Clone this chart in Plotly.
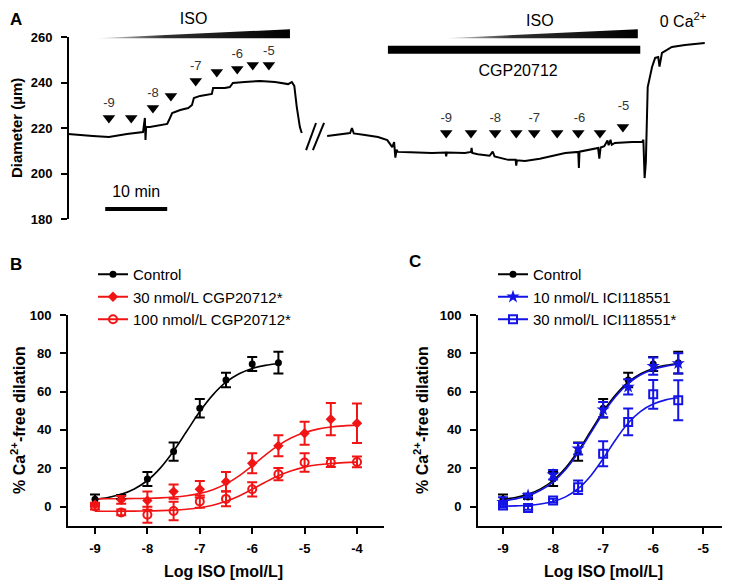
import plotly.graph_objects as go

FONT = 'Liberation Sans, Arial, sans-serif'
RED = '#f01414'
BLUE = '#1414e6'

##################################################
# panel A : diameter trace (time in min, diameter in um)
##################################################
seg1_t = [0.0, 1.9, 4.0, 6.6, 8.4, 9.5, 12.1, 12.4, 12.5, 12.6, 13.2, 14.8, 16.0, 16.3, 16.8,
          18.1, 19.4, 20.0, 20.3, 21.3, 22.6, 23.2, 23.4, 25.3, 26.1, 26.6, 28.5, 31.0, 33.4,
          35.5, 36.1, 36.5, 36.9, 37.4, 37.7]
seg1_d = [217.4, 216.9, 216.5, 216.0, 216.9, 217.4, 218.2, 224.4, 214.7, 220.4, 220.4, 221.3,
          221.8, 223.5, 226.6, 227.9, 228.8, 230.1, 233.2, 234.1, 234.5, 235.0, 237.6, 237.6,
          238.0, 239.8, 240.2, 240.7, 240.2, 239.3, 240.2, 238.5, 229.2, 220.4, 217.8]

seg2_t = [41.8, 43.9, 45.5, 45.8, 46.1, 47.9, 50.0, 51.5, 52.3, 52.6, 52.8, 53.0, 53.2, 55.2,
          58.7, 60.9, 61.0, 61.1, 64.0, 65.0, 65.1, 65.2, 66.1, 68.0, 68.5, 68.8, 71.0, 72.2,
          72.3, 72.4, 73.7, 76.1, 77.4, 80.2, 82.3, 82.4, 82.5, 85.5, 85.7, 85.9, 86.5, 87.0,
          87.2, 87.5, 87.7, 88.2, 91.0, 92.6, 92.8, 93.0, 93.2, 93.5, 94.2, 94.7, 95.2, 95.4,
          95.8, 97.4, 99.5, 102.7]
seg2_d = [216.5, 217.4, 217.8, 220.0, 217.6, 216.9, 216.0, 214.7, 211.6, 213.8, 207.0, 210.5,
          209.5, 209.3, 209.0, 209.2, 207.5, 209.2, 209.0, 209.5, 211.3, 209.0, 208.5, 207.8,
          209.6, 207.5, 206.0, 206.0, 203.5, 205.8, 205.5, 206.5, 207.3, 209.0, 209.5, 202.4,
          209.6, 211.2, 206.5, 211.4, 212.0, 214.5, 212.4, 214.8, 212.6, 213.4, 213.8, 213.8,
          214.8, 198.0, 205.0, 238.0, 246.8, 250.8, 251.2, 247.0, 253.0, 255.6, 256.5, 257.4]

# drug additions (arrowheads) and their log concentration labels
arrows1_t = [6.6, 10.2, 13.7, 16.6, 20.6, 24.0, 27.3, 29.8, 32.4]
arrows1_d = [224.4, 224.4, 228.8, 234.1, 240.7, 244.6, 245.9, 247.7, 247.7]
arrows2_t = [61.0, 65.0, 68.9, 72.3, 75.2, 78.9, 82.3, 85.8, 89.5]
arrows2_d = [217.8, 217.8, 217.8, 217.8, 217.8, 217.8, 217.8, 217.8, 220.4]
dose_labels = ['-9', '-8', '-7', '-6', '-5']
labels1_t = [6.6, 13.7, 20.6, 27.3, 32.4]
labels1_d = [230.8, 235.2, 246.8, 252.1, 253.4]
labels2_t = [61.0, 68.9, 75.2, 82.5, 89.6]
labels2_d = [224.0, 224.0, 224.0, 224.0, 229.2]

# treatment bars
iso1_t = [4.7, 35.8]
iso2_t = [60.8, 91.9]
cgp_bar_t = [51.6, 92.3]
wedge_d = [259.5, 263.4]
cgp_bar_d = [252.6, 256.2]
scale_t = [6.0, 16.0]
scale_d = 184.4
break1_t = [38.4, 40.0]
break2_t = [39.5, 41.3]
break_d = [210.3, 222.2]

##################################################
# panels B and C : concentration-response data
##################################################
log_iso = [-9, -8.5, -8, -7.5, -7, -6.5, -6, -5.5, -5, -4.5, -4]
control_y = [3.8, 5.0, 14.4, 28.7, 51.3, 66.1, 74.4, 75.1]
control_err = [2.5, 1.0, 3.7, 4.8, 4.8, 3.8, 3.7, 5.7]
cgp30_y = [1.0, 3.5, 3.1, 7.8, 9.0, 13.0, 22.6, 31.7, 38.3, 45.6, 43.5]
cgp30_err = [1.0, 2.0, 4.8, 3.7, 4.3, 5.0, 5.2, 5.5, 6.0, 8.4, 10.3]
cgp100_y = [0.0, -3.1, -4.3, -2.3, 2.6, 4.0, 9.0, 16.9, 23.0, 23.0, 23.3]
cgp100_err = [1.5, 1.5, 4.2, 4.8, 3.2, 3.9, 3.7, 3.2, 4.8, 2.3, 2.8]
ici10_y = [2.3, 5.8, 16.6, 30.2, 50.6, 62.5, 73.3, 74.7]
ici10_err = [2.5, 1.0, 2.5, 3.0, 4.0, 4.0, 4.5, 5.3]
ici30_y = [0.5, -0.7, 3.1, 10.1, 27.6, 44.2, 58.6, 55.5]
ici30_err = [1.0, 1.0, 1.0, 3.5, 6.5, 7.0, 7.5, 10.5]

# fitted curves
fit_x = [-9, -8.75, -8.5, -8.25, -8, -7.75, -7.5, -7.25, -7, -6.75, -6.5, -6.25, -6, -5.75,
         -5.5, -5.25, -5, -4.75, -4.5, -4.25, -4]
control_fit = [3.8, 4.75, 6.4, 9.2, 13.6, 20.2, 29.0, 39.3, 49.6, 58.3, 64.9, 69.3, 72.1, 73.7, 74.7]
cgp30_fit = [4.0, 4.06, 4.1, 4.17, 4.31, 4.54, 4.96, 5.67, 6.87, 8.83, 11.83, 16.04, 21.27,
             26.84, 31.9, 35.87, 38.64, 40.42, 41.5, 42.14, 42.51]
cgp100_fit = [-2.48, -2.46, -2.43, -2.38, -2.3, -2.14, -1.86, -1.39, -0.59, 0.72, 2.72, 5.52,
              9.01, 12.72, 16.1, 18.74, 20.59, 21.78, 22.5, 22.93, 23.18]
ici10_fit = [3.0, 4.0, 5.6, 8.5, 12.8, 19.3, 28.0, 38.3, 48.7, 57.5, 64.2, 68.8, 71.6, 73.3, 74.3]
ici30_fit = [0.17, 0.35, 0.69, 1.36, 2.65, 5.04, 9.3, 16.0, 25.0, 34.9, 43.6, 49.7, 53.5, 55.7, 56.8]

y_ticks = [0, 20, 40, 60, 80, 100]
b_ticks = [-9, -8, -7, -6, -5, -4]
c_ticks = [-9, -8, -7, -6, -5]
a_ticks = [180, 200, 220, 240, 260]

# the page puts the plot 8px in from the top-left corner of the window
OFF = 8
W, H = 730 - OFF, 584 - OFF


def px_x(p):
    return (p - OFF) / W


def px_y(p):
    return 1 - (p - OFF) / H


fig = go.Figure()

# ---------- panel A ----------
for t, d in [(seg1_t, seg1_d), (seg2_t, seg2_d)]:
    fig.add_trace(go.Scatter(x=t, y=d, mode='lines', line=dict(color='black', width=2),
                             showlegend=False, xaxis='x', yaxis='y', hoverinfo='skip'))

for t in [iso1_t, iso2_t]:
    fig.add_trace(go.Scatter(
        x=[t[0], t[1], t[1], t[0], t[0]],
        y=[wedge_d[0], wedge_d[0], wedge_d[1], wedge_d[0] + 0.3, wedge_d[0]],
        mode='lines', line=dict(width=0), fill='toself',
        fillgradient=dict(type='horizontal',
                          colorscale=[[0, '#e0e0e0'], [0.35, '#303030'], [1, '#000000']]),
        showlegend=False, xaxis='x', yaxis='y', hoverinfo='skip'))

fig.add_trace(go.Scatter(
    x=[cgp_bar_t[0], cgp_bar_t[1], cgp_bar_t[1], cgp_bar_t[0], cgp_bar_t[0]],
    y=[cgp_bar_d[0], cgp_bar_d[0], cgp_bar_d[1], cgp_bar_d[1], cgp_bar_d[0]],
    mode='lines', line=dict(width=0, color='black'), fill='toself', fillcolor='black',
    showlegend=False, xaxis='x', yaxis='y', hoverinfo='skip'))

fig.add_trace(go.Scatter(x=scale_t, y=[scale_d, scale_d], mode='lines',
                         line=dict(color='black', width=4), showlegend=False,
                         xaxis='x', yaxis='y', hoverinfo='skip'))

for t in [break1_t, break2_t]:
    fig.add_trace(go.Scatter(x=t, y=break_d, mode='lines', line=dict(color='black', width=2),
                             showlegend=False, xaxis='x', yaxis='y', hoverinfo='skip'))

fig.add_trace(go.Scatter(x=arrows1_t + arrows2_t, y=arrows1_d + arrows2_d, mode='markers',
                         marker=dict(symbol='triangle-down', size=11, color='black'),
                         showlegend=False, xaxis='x', yaxis='y', cliponaxis=False,
                         hoverinfo='skip'))

fig.add_trace(go.Scatter(x=labels1_t + labels2_t, y=labels1_d + labels2_d, mode='text',
                         text=dose_labels + dose_labels,
                         textfont=dict(family=FONT, size=13, color='#333'),
                         showlegend=False, xaxis='x', yaxis='y', cliponaxis=False,
                         hoverinfo='skip'))

fig.add_trace(go.Scatter(
    x=[sum(iso1_t) / 2, 76.1, 72.6, 99.2, sum(scale_t) / 2],
    y=[267.5, 266.6, 244.6, 266.2, 191.4], mode='text',
    text=['ISO', 'ISO', 'CGP20712', '0 Ca<sup>2+</sup>', '10 min'],
    textfont=dict(family=FONT, size=16, color='black'),
    showlegend=False, xaxis='x', yaxis='y', cliponaxis=False, hoverinfo='skip'))

# ---------- panels B and C ----------
err = dict(type='data', thickness=2, width=5)


def add_points(x, y, e, color, symbol, size, ax, lw=0):
    fig.add_trace(go.Scatter(
        x=x, y=y, mode='markers',
        marker=dict(symbol=symbol, size=size, color=color, line=dict(width=lw, color=color)),
        error_y=dict(err, array=e, color=color),
        showlegend=False, xaxis='x' + ax, yaxis='y' + ax, cliponaxis=False))


def add_fit(y, color, ax):
    fig.add_trace(go.Scatter(x=fit_x[:len(y)], y=y, mode='lines', line_shape='spline',
                             line=dict(color=color, width=1.6), showlegend=False,
                             xaxis='x' + ax, yaxis='y' + ax, hoverinfo='skip'))


def add_key(name, color, symbol, size, legend, lw=0):
    fig.add_trace(go.Scatter(x=[None], y=[None], mode='lines+markers', name=name,
                             line=dict(color=color, width=2),
                             marker=dict(symbol=symbol, size=size, color=color,
                                         line=dict(width=lw, color=color)),
                             legend=legend, xaxis='x2', yaxis='y2'))


# B
add_fit(control_fit, 'black', '2')
add_fit(cgp30_fit, RED, '2')
add_fit(cgp100_fit, RED, '2')
add_points(log_iso[:8], control_y, control_err, 'black', 'circle', 7, '2')
add_points(log_iso, cgp30_y, cgp30_err, RED, 'diamond', 8, '2')
add_points(log_iso, cgp100_y, cgp100_err, RED, 'circle-open', 8, '2', lw=2)
add_key('Control', 'black', 'circle', 7, 'legend')
add_key('30 nmol/L CGP20712*', RED, 'diamond', 8, 'legend')
add_key('100 nmol/L CGP20712*', RED, 'circle-open', 8, 'legend', lw=2)

# C
add_fit(control_fit, 'black', '3')
add_points(log_iso[:8], control_y, control_err, 'black', 'circle', 7, '3')
add_fit(ici10_fit, BLUE, '3')
add_fit(ici30_fit, BLUE, '3')
add_points(log_iso[:8], ici10_y, ici10_err, BLUE, 'star', 10, '3')
add_points(log_iso[:8], ici30_y, ici30_err, BLUE, 'square-open', 8, '3', lw=2)
add_key('Control', 'black', 'circle', 7, 'legend2')
add_key('10 nmol/L ICI118551', BLUE, 'star', 10, 'legend2')
add_key('30 nmol/L ICI118551*', BLUE, 'square-open', 8, 'legend2', lw=2)

tickfont = dict(family=FONT, size=13, color='black', weight='bold')
titlefont = dict(family=FONT, size=16, color='black', weight='bold')
axis_common = dict(showgrid=False, zeroline=False, ticks='outside', ticklen=6, tickwidth=2,
                   tickcolor='black', tickfont=tickfont, fixedrange=True, automargin=False)
line_common = dict(showline=True, linewidth=2, linecolor='black')

y_domain_bc = [px_y(525.7), px_y(315)]


def title_note(text, x, y, angle=0, size=16):
    return dict(text=text, x=px_x(x), y=px_y(y), xref='paper', yref='paper', showarrow=False,
                textangle=angle, font=dict(titlefont, size=size), xanchor='center',
                yanchor='middle')


def letter(text, x, y, xanchor='center', yanchor='middle'):
    return dict(text=text, x=px_x(x), y=px_y(y), xref='paper', yref='paper', showarrow=False,
                xanchor=xanchor, yanchor=yanchor,
                font=dict(family=FONT, size=17, color='black', weight='bold'))


fig.update_layout(
    width=W, height=H,
    margin=dict(l=0, r=0, t=0, b=0),
    paper_bgcolor='white', plot_bgcolor='white',
    font=dict(family=FONT, color='black'),
    xaxis=dict(domain=[px_x(68), px_x(712)], range=[0, 103.87], visible=False, anchor='y',
               automargin=False),
    yaxis=dict(axis_common, domain=[px_y(219), px_y(18.8)], range=[180, 268],
               tickvals=a_ticks, showline=False, anchor='x', ticklabelstandoff=6),
    xaxis2=dict(axis_common, **line_common, domain=[px_x(68), px_x(384)],
                range=[-9.515, -3.485], tickvals=b_ticks, ticktext=[str(v) for v in b_ticks],
                anchor='y2', ticklabelstandoff=4),
    yaxis2=dict(axis_common, **line_common, domain=y_domain_bc, range=[-10, 100],
                tickvals=y_ticks, anchor='x2', ticklabelstandoff=6),
    xaxis3=dict(axis_common, **line_common, domain=[px_x(478), 1.0],
                range=[-9.5, -4.466], tickvals=c_ticks, ticktext=[str(v) for v in c_ticks],
                anchor='y3', ticklabelstandoff=4),
    yaxis3=dict(axis_common, **line_common, domain=y_domain_bc, range=[-10, 100],
                tickvals=y_ticks, anchor='x3', ticklabelstandoff=6),
    legend=dict(x=px_x(93), y=px_y(258), xanchor='left', yanchor='top',
                font=dict(family=FONT, size=15, color='black'), bgcolor='rgba(0,0,0,0)',
                tracegroupgap=0, itemwidth=30),
    legend2=dict(x=px_x(493), y=px_y(258), xanchor='left', yanchor='top',
                 font=dict(family=FONT, size=15, color='black'), bgcolor='rgba(0,0,0,0)',
                 tracegroupgap=0, itemwidth=30),
    shapes=[dict(type='line', xref='paper', yref='y', x0=px_x(68), x1=px_x(68),
                 y0=180, y1=260, line=dict(color='black', width=2))],
    annotations=[
        letter('A', 8, 8, xanchor='left', yanchor='top'),
        letter('B', 8, 264, xanchor='left'),
        letter('C', 415, 261),
        title_note('Diameter (µm)', 16, 128, -90, size=15),
        title_note('% Ca<sup>2+</sup>-free dilation', 18, 420, -90),
        title_note('% Ca<sup>2+</sup>-free dilation', 421, 420, -90),
        title_note('Log ISO [mol/L]', 224, 571),
        title_note('Log ISO [mol/L]', 603, 571),
    ],
)

fig.write_html('out.html')
